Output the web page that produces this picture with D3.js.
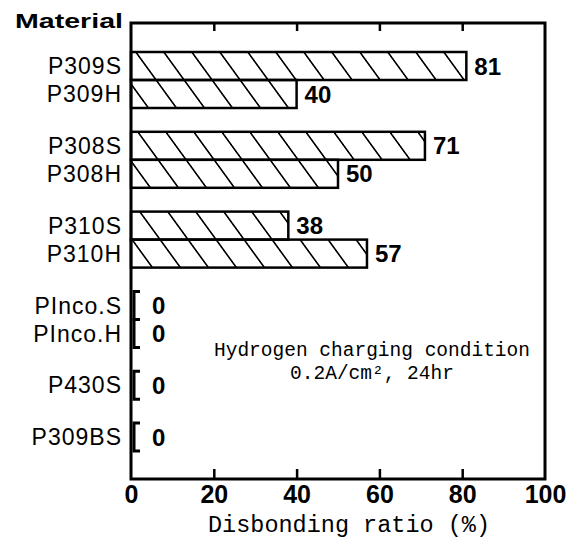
<!DOCTYPE html>
<html>
<head>
<meta charset="utf-8">
<script src="https://cdn.jsdelivr.net/npm/d3@7"></script>
<style>
  body { margin: 0; background: #fff; }
  svg { display: block; }
</style>
</head>
<body>
<div id="chart"></div>
<script>
// data
const materials = ['P309S', 'P309H', 'P308S', 'P308H', 'P310S', 'P310H', 'PInco.S', 'PInco.H', 'P430S', 'P309BS'];
const ratios = [81, 40, 71, 50, 38, 57, 0, 0, 0, 0];
// row slot for each material (pairs touch, groups are spaced apart)
const rows = [0, 1, 2.85, 3.85, 5.7, 6.7, 8.55, 9.55, 11.4, 13.25];
const xTicks = [0, 20, 40, 60, 80, 100];

const W = 579, H = 549;
const plotLeft = 131, plotRight = 545, plotTop = 23, plotBottom = 479;
const rowH = 28;

const svg = d3.select('#chart').append('svg')
  .attr('width', W)
  .attr('height', H);

const defs = svg.append('defs');
defs.append('pattern')
  .attr('id', 'hatch')
  .attr('patternUnits', 'userSpaceOnUse')
  .attr('width', 28)
  .attr('height', 10)
  .attr('patternTransform', 'skewX(36)')
  .append('line')
  .attr('x1', 14).attr('y1', -1)
  .attr('x2', 14).attr('y2', 11)
  .attr('stroke', '#000')
  .attr('stroke-width', 2);

const x = d3.scaleLinear().domain([0, 100]).range([plotLeft, plotRight]);
const y = d3.scaleLinear().domain([0, 1]).range([66, 66 + rowH]);

// axes: ticks point inward
const xAxisB = d3.axisBottom(x)
  .tickValues(xTicks)
  .tickSizeInner(-10)
  .tickSizeOuter(0)
  .tickPadding(6);
const xAxisT = d3.axisTop(x)
  .tickValues(xTicks)
  .tickSizeInner(-8)
  .tickSizeOuter(0)
  .tickFormat('');

const gB = svg.append('g')
  .attr('transform', `translate(0, ${plotBottom})`)
  .call(xAxisB);
gB.select('.domain').remove();
gB.selectAll('.tick line').attr('stroke', '#000').attr('stroke-width', 2.5);
gB.selectAll('.tick text')
  .attr('fill', '#000')
  .style('font-family', '"Liberation Sans", Arial, sans-serif')
  .style('font-weight', 'bold')
  .style('font-size', '25px');

const gT = svg.append('g')
  .attr('transform', `translate(0, ${plotTop})`)
  .call(xAxisT);
gT.select('.domain').remove();
gT.selectAll('.tick line').attr('stroke', '#000').attr('stroke-width', 2.5);
gT.selectAll('.tick').filter(d => d === 0 || d === 100).remove();
gB.selectAll('.tick line').filter(d => d === 0 || d === 100).remove();

// frame
svg.append('rect')
  .attr('x', plotLeft)
  .attr('y', plotTop)
  .attr('width', plotRight - plotLeft)
  .attr('height', plotBottom - plotTop)
  .attr('fill', 'none')
  .attr('stroke', '#000')
  .attr('stroke-width', 3);

const data = materials.map((m, i) => ({ name: m, value: ratios[i], row: rows[i] }));

// hatched bars
svg.append('g').selectAll('rect')
  .data(data.filter(d => d.value > 0))
  .join('rect')
  .attr('x', x(0))
  .attr('y', d => y(d.row) - rowH / 2)
  .attr('width', d => x(d.value) - x(0))
  .attr('height', rowH)
  .attr('fill', 'url(#hatch)')
  .attr('stroke', '#000')
  .attr('stroke-width', 2.5);

// zero values drawn as a bracket
svg.append('g').selectAll('path')
  .data(data.filter(d => d.value === 0))
  .join('path')
  .attr('d', d => {
    const y0 = y(d.row) - rowH / 2, y1 = y(d.row) + rowH / 2;
    return `M${x(0) + 9},${y0}H${x(0) + 3}V${y1}H${x(0) + 9}`;
  })
  .attr('fill', 'none')
  .attr('stroke', '#000')
  .attr('stroke-width', 3);

// value labels
svg.append('g').selectAll('text')
  .data(data)
  .join('text')
  .attr('x', d => d.value > 0 ? x(d.value) + 8 : x(0) + 21)
  .attr('y', d => y(d.row))
  .attr('dy', '0.36em')
  .style('font-family', '"Liberation Sans", Arial, sans-serif')
  .style('font-weight', 'bold')
  .style('font-size', '24px')
  .text(d => d.value);

// category labels
svg.append('g').selectAll('text')
  .data(data)
  .join('text')
  .attr('x', 122)
  .attr('y', d => y(d.row))
  .attr('dy', '0.36em')
  .attr('text-anchor', 'end')
  .style('font-family', '"Liberation Sans", Arial, sans-serif')
  .style('font-size', '23px')
  .style('letter-spacing', '1px')
  .text(d => d.name);

svg.append('text')
  .attr('x', 15)
  .attr('y', 28)
  .attr('textLength', 108)
  .attr('lengthAdjust', 'spacingAndGlyphs')
  .style('font-family', '"Liberation Sans", Arial, sans-serif')
  .style('font-weight', 'bold')
  .style('font-size', '21px')
  .text('Material');

svg.append('text')
  .attr('x', 349)
  .attr('y', 532)
  .attr('text-anchor', 'middle')
  .style('font-family', '"Liberation Mono", monospace')
  .style('font-size', '23.5px')
  .text('Disbonding ratio (%)');

const note = svg.append('text')
  .attr('text-anchor', 'middle')
  .style('font-family', '"Liberation Mono", monospace')
  .style('font-size', '19.5px');
note.append('tspan').attr('x', 372).attr('y', 356).text('Hydrogen charging condition');
note.append('tspan').attr('x', 372).attr('y', 379).text('0.2A/cm², 24hr');
</script>
</body>
</html>
